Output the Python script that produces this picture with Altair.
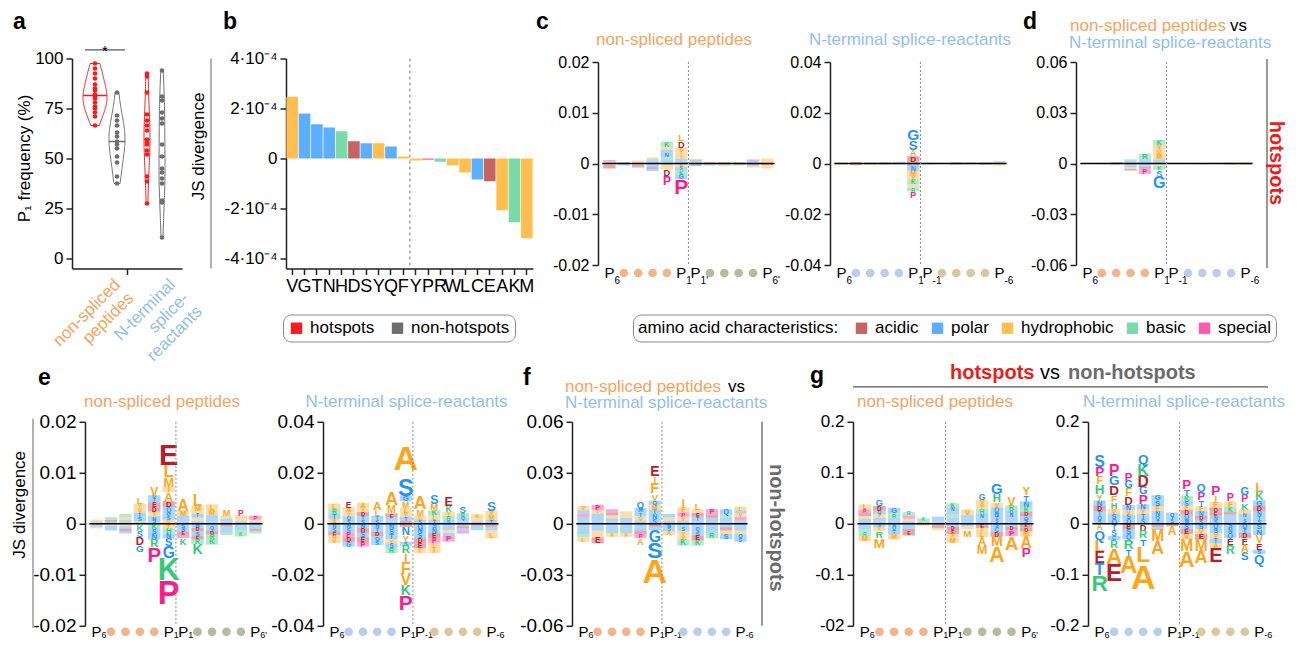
import altair as alt
import numpy as np
import pandas as pd

FONT = "Liberation Sans"
LOGO_FONT = "Liberation Sans Narrow, Liberation Sans, Arial, sans-serif"
ORANGE_T = "#F2A462"
BLUE_T = "#93BEEA"
RED = "#EE1C1C"
GRAY_T = "#6B6B6B"

# ---------------- panel a : P1 frequency (%) ----------------
NS_HOT = [97.5, 95, 92.5, 90, 87, 85, 84, 82, 81, 80, 78, 76, 75, 73, 71, 66.5]
NS_NON = [83, 71.5, 69, 66.5, 63, 61, 58.5, 57, 55, 51, 48, 41, 37.5]
NT_HOT = [92.5, 91, 83, 72, 69, 66.5, 64, 59.5, 58, 57, 54, 52, 41, 38.5, 27.5]
NT_NON = [94, 81, 79, 73, 70, 67.5, 57, 51, 45, 43, 40, 37.5, 29, 28, 10.5]
A_GROUPS = ["hotspots", "non-hotspots", "hotspots", "non-hotspots"]
A_XLABELS = [["non-spliced", "peptides"], ["N-terminal", "splice-", "reactants"]]

# ---------------- panel b : JS divergence per residue ----------------
BAR_AA = ["V", "G", "T", "N", "H", "D", "S", "Y", "Q", "F",
          "Y", "P", "R", "W", "L", "C", "E", "A", "K", "M"]
BAR_JS = [2.47e-4, 1.80e-4, 1.37e-4, 1.24e-4, 1.09e-4, 0.69e-4, 0.61e-4, 0.61e-4, 0.48e-4, 0.08e-4,
          -0.08e-4, -0.05e-4, -0.13e-4, -0.28e-4, -0.56e-4, -0.84e-4, -0.91e-4, -2.07e-4, -2.55e-4, -3.19e-4]

# ---------------- sequence logos (letter + height, from zero outward; "pos | neg") ----------------
LOGO_C1 = [
    "A.2 S.2 P.3 | V.3 E.4 D.3",
    "L.1 T.1 G.1 | A.2 S.2",
    "V.2 F.2 M.2 | N.3 D.3 E.2",
    "S.3 T.3 R.3 L.3 | G.3 S.4 D.4 Q.4",
    "A.3 S.5 R.5 N.8 T.6 Y.6 K1.0 | S.4 L.4 A.4 D1.3 P1.7",
    "G.4 S.5 I.8 Y.7 A.7 D1.3 L1.4 | A.7 S.7 K.8 G.9 P3.0",
    "R.3 S.3 E.2 | T.3 D.2",
    "G.2 A.2 | L.2 S.2",
    "S.1 T.2 | E.2 A.3",
    "V.2 S.1 | D.2 R.2",
    "S.3 T.2 P.3 | E.3 S.2 A.3",
    "M.2 L.3 A.5 | E.3 V.3 A.4",
]
LOGO_C2 = [
    "S.3 A.2 | E.3 L.2",
    "P.5 A.2 | R.4 E.3",
    "S.3 G.2 | T.3 V.2",
    "A.3 E.2 | S.3 M.2",
    "S.4 G.3 | N.3 A.2",
    "T.6 D2.3 A2.5 S3.8 G4.4 | E.9 N2.0 M2.0 V1.5 K1.8 I1.3 R1.5 P2.5",
    "A.2 R.2 | E.3",
    "S.2 | A.2",
    "L.3 E.2 | A.3 S.2",
    "S.2 E.2 | R.3",
    "T.3 S.2 | V.3 E.2",
    "K.6 S.3 | A.5 V.3",
]
LOGO_D = [
    "S.3 | A.3",
    "E.3 L.2 | S.3 V.2",
    "A.4 E.4 | L.4 N.3",
    "A.5 S.5 T.6 K.9 | N1.0 S1.2 L1.0 E1.0",
    "S.8 N.8 Q.9 R3.4 | S1.0 G1.1 E1.0 P3.0",
    "S1.2 T1.3 M2.8 V2.8 Y2.8 K3.0 | A1.5 K2.2 S4.0 G6.9",
    "E.4 | A.4",
    "S.3 | T.3",
    "A.3 | E.3 L.2",
    "A.2 | E.3",
    "A.4 L.3 | M.4 S.3",
    "L.4 Y.3 | K.4 A.3",
]
LOGO_E1 = [
    "A.3 S.2 V.3 | N.3 T.3 L.3",
    "S.4 E.4 K.5 | A.4 S.4 G.5",
    "S.4 T.4 V.5 K.6 | A.5 S.5 D.5 N.4",
    "K.6 S.8 T.8 V.9 Y.8 L1.4 | K1.3 S1.3 D1.6 G1.4",
    "S.7 N.8 Y.9 D.9 E.9 T.7 Q.7 V1.7 | K1.0 S1.0 N1.1 R1.6 P2.9",
    "V.8 S.8 G.8 Q.9 D1.1 A1.8 I1.1 M1.8 L2.4 E4.1 | Y.9 H1.0 N1.0 S1.6 G2.2 K4.3 P4.6",
    "S.5 N.6 T.5 M1.0 A2.2 | S.8 N.7 E.7 P.6 K1.3",
    "S.6 Y.6 T.7 I.6 M1.0 L2.2 | N.8 D.7 S.8 E.8 R.9 K2.0",
    "S.5 T.6 Q.6 M1.0 L1.1 | N.6 Q.7 D.8 R.9 K1.1",
    "S.5 T.5 Y.6 M1.3 | E.5 Q.6 S.5 R.6",
    "S.5 A.6 L.6 P1.2 | Q.6 S.6 R.6 K.7",
    "S.4 A.4 P.8 | N.5 S.5 E.4 K.5",
]
LOGO_E2 = [
    "A1.9 T1.9 R1.9 L2.2 | N1.5 S1.5 E1.5 A1.5 V1.6",
    "S1.5 Q1.5 Y1.5 A2.0 E2.4 | N1.7 S1.8 P1.8 D1.8 G1.8",
    "S1.5 T1.5 D1.6 Y1.5 A2.2 | N1.7 D1.8 S1.8 E1.8 P1.8",
    "S1.6 T1.6 L2.4 A3.3 | N1.6 T1.6 D1.7 Q1.7 S1.7",
    "T1.3 S1.3 E1.5 M3.0 A5.0 | N2.0 S2.0 T2.0 Y1.7 S1.8 R2.0",
    "D1.3 T1.5 Y1.5 L2.0 M2.5 G2.2 S6.6 A16.2 | D1.2 N3.2 Y2.6 S1.6 R3.2 I3.2 F4.5 V4.5 K3.9 P5.9",
    "S1.5 L1.8 M2.5 A5.0 | Q1.9 N1.9 S1.9 D1.9 E1.9 I2.0",
    "T1.5 L1.8 K2.0 M2.7 S3.5 | S1.8 N1.9 E1.9 P1.9 L2.0 I2.0",
    "S1.5 R1.6 Y1.5 K2.5 E3.5 | N1.2 S1.2 L1.2 T1.2 P2.2",
    "T1.2 Q1.4 R1.6 S2.8 | N.9 E.9 S1.0 P1.0",
    "S1.0 L1.2 A1.6 | E.8 N.8 S.9",
    "T1.5 M1.8 V1.8 S3.8 | E1.2 S1.3 A1.2 L2.0",
]
LOGO_F = [
    "S2.0 N2.0 P2.0 T2.0 V2.5 | Q2.0 S2.0 N2.0 R2.0 L2.5",
    "N2.0 S2.0 T2.0 Y2.1 P3.0 | S2.0 T2.0 A2.0 L2.0 E3.5",
    "S1.5 T1.7 Y1.7 E1.7 P2.0 | N1.8 S1.8 Q1.8 A2.2",
    "S1.7 T1.8 Y1.8 L2.0 | Q1.8 S1.8 T1.8 A2.2",
    "S2.0 V2.4 T2.4 N2.6 Q4.0 | N2.0 S2.0 E2.0 P2.4 A4.0",
    "S2.8 N2.8 T2.8 M2.8 Q2.5 V4.0 F6.2 I4.2 E5.9 | D1.8 N2.0 G6.7 S9.6 A15.3",
    "S1.8 A1.9 T2.0 | N2.2 S2.1 A2.4",
    "S2.0 V2.2 P2.5 F3.0 I4.6 | N2.0 S2.3 Y2.5 V2.5 K3.5",
    "S2.0 T2.2 E2.2 Y2.0 L4.0 | N2.0 Q2.3 S2.5 E3.0 K3.0",
    "S1.7 T1.8 E2.0 P3.1 | Q1.8 N1.8 S2.0 R3.0",
    "S1.8 T1.8 R2.0 Q3.0 | N2.0 E2.0 V2.0 S3.0",
    "S2.0 P2.0 V2.1 Q1.8 L2.2 | N2.0 T2.0 Y2.0 Q2.2 S2.3",
]
LOGO_G1 = [
    "S.5 Q.5 A.5 D.6 P.7 L.95 | N.5 S.6 K.6 R.7 M1.0",
    "S.6 T.6 V.7 Q.7 D.9 G1.3 | S.7 V.7 R1.4 M1.9",
    "S.6 T.6 R.8 G1.1 | N.7 Q.7 T.7 M1.0",
    "S.5 Y.5 P.6 R.7 | T.5 Q.5 D.6 E.7",
    "S.4 K.7 | A.4",
    "S.5 T.4 Q.5 | E.4 D.4 V.4",
    "S.6 T.6 R.6 Q.6 N.7 K.9 | N.6 D.7 E.7 A.7 M1.0",
    "S.5 N.6 Q.6 V1.1 | S.5 V.6 M1.4",
    "S.6 T.6 N.8 H.9 Y.9 V.9 G1.2 | E.8 F.8 L1.0 A1.5 M1.8",
    "S.7 T.7 N.9 Q.9 V.9 H1.6 G2.1 | S.7 C.9 D.9 M2.0 A3.0",
    "S.6 T.6 N.7 Q.7 R1.0 V1.7 | N.6 D.7 P1.1 A2.6",
    "S.7 Q.8 D.8 K1.0 N1.1 T1.2 Y1.6 | E.7 D.8 M1.0 A2.2 P1.9",
]
LOGO_G2 = [
    "S.8 Q.8 T.9 D1.0 N1.1 Y1.3 H1.9 F1.5 P1.9 S2.2 | A1.2 Q1.9 L2.4 E2.2 T2.2 R3.2",
    "Q1.0 S1.0 V.9 H1.3 F1.4 D1.9 G1.9 P2.2 | T1.2 S1.2 C.8 R1.5 A3.1 E3.4",
    "Q.9 S.9 V.9 N1.0 D1.6 F1.6 G1.5 P1.6 | E1.0 S1.1 Q1.0 R1.9 T1.3 A3.4",
    "S.9 T1.0 Y.9 N1.0 P1.9 G1.55 D2.2 K2.3 Q1.9 | D1.3 R1.6 T1.4 L3.2 A5.9",
    "T.8 Q.8 N.9 F.9 S1.1 G1.1 | E.6 N.6 M2.2 A2.5",
    "S.7 T.7 Q.8 | E.5 A1.7",
    "N.9 Q.9 D.9 F.9 S.9 K1.0 T1.4 P1.85 | S1.0 E1.0 V1.1 M2.2 A3.1",
    "S.8 D.8 N.9 F.9 T1.2 P1.6 Q1.6 | S1.0 V1.0 E1.1 M2.2 A2.5",
    "S.8 N.8 E.8 D.8 F1.1 I1.3 P1.9 | Q.9 S1.0 V1.0 T.9 A.9 E2.8",
    "S.6 T.6 N.6 D.6 K.9 F1.1 P1.5 | S.9 N.9 Q1.0 E1.4 R1.7",
    "S.7 T.6 N.7 L.8 K1.4 P1.45 G1.55 | Q.9 T.9 D1.0 E1.3 A1.5 S1.6",
    "S.8 T.8 N.9 D1.0 G1.1 K1.6 L1.9 | S1.1 N1.1 V1.6 E1.3 S.8 Q1.9",
]
TICKS_NS = ["P6", "", "", "", "", "P1", "P1'", "", "", "", "", "P6'"]
TICKS_NT = ["P6", "", "", "", "", "P1", "P-1", "", "", "", "", "P-6"]

# ---------------- styles ----------------
AA_CLASS = {}
for _a in "DE":
    AA_CLASS[_a] = "acidic"
for _a in "STNQGC":
    AA_CLASS[_a] = "polar"
for _a in "AVLIMFWY":
    AA_CLASS[_a] = "hydrophobic"
for _a in "HKR":
    AA_CLASS[_a] = "basic"
AA_CLASS["P"] = "special"
CLASSES = ["acidic", "polar", "hydrophobic", "basic", "special"]
BAR_COLORS = ["#C66462", "#5CAEFF", "#FFBE50", "#7ADBA8", "#FF5AAE"]
LOGO_COLORS = dict(zip(CLASSES, ["#B3202C", "#2593F5", "#FFA51A", "#36C97C", "#FF1A8C"]))
HOT_COLORS = {"hotspots": "#F21D1D", "non-hotspots": "#6E6E6E"}
PEACH, SAGE, LBLUE, TAN = "#F3B48B", "#B5BC9C", "#B8CEEA", "#D8C89F"

TOP_H, LOGO_TOP_H, BOT_H = 210, 203, 204
DUMMY = pd.DataFrame({"v": [0]})
FSMAX = 34


def txt(text, x, y, size=17, color="black", weight="normal", align="left",
        baseline="alphabetic", angle=0, font=FONT, line_height=None):
    kw = dict(text=text, fontSize=size, color=color, fontWeight=weight,
              align=align, baseline=baseline, font=font)
    if angle:
        kw["angle"] = angle
    if line_height:
        kw["lineHeight"] = line_height
    return alt.Chart(DUMMY).mark_text(**kw).encode(x=alt.value(x), y=alt.value(y))


def vline(x, y1, y2, color="#999", width=1.5):
    return alt.Chart(DUMMY).mark_rule(color=color, strokeWidth=width).encode(
        x=alt.value(x), y=alt.value(y1), y2=alt.value(y2))


def hline(x1, x2, y, color="#555", width=1.2):
    return alt.Chart(DUMMY).mark_rule(color=color, strokeWidth=width).encode(
        x=alt.value(x1), x2=alt.value(x2), y=alt.value(y))


def spacer(w, h):
    return alt.Chart(DUMMY).mark_point(opacity=0).encode(
        x=alt.X("v:Q", axis=None), y=alt.Y("v:Q", axis=None)).properties(width=w, height=h)


AXIS_STYLE = dict(domainColor="#222", tickColor="#222", labelColor="black",
                  domainWidth=1.5, tickWidth=1.5, grid=False, labelFont=FONT)

# ---------------- panel a ----------------
A_CENTERS = [23, 45, 75, 90]
A_WIDTHS = [24, 16, 6, 6]
vio_rows, med_rows, dot_rows = [], [], []
for k, (vals, grp) in enumerate(zip([NS_HOT, NS_NON, NT_HOT, NT_NON], A_GROUPS)):
    v = np.array(vals, float)
    cx, wf = A_CENTERS[k], A_WIDTHS[k]
    bw = 1.06 * v.std(ddof=1) * len(v) ** (-0.2)
    grid = np.linspace(v.min(), v.max(), 80)
    dens = np.exp(-0.5 * ((grid[:, None] - v[None, :]) / bw) ** 2).sum(1)
    hw = dens / dens.max() * wf / 2
    col = HOT_COLORS[grp]
    for g, h in zip(grid, hw):
        vio_rows.append(dict(vid=k, y=g, xl=cx - h, xr=cx + h, col=col))
    med = float(np.median(v))
    dm = np.exp(-0.5 * ((med - v) / bw) ** 2).sum() / dens.max() * wf / 2
    med_rows.append(dict(vid=k, y=med, xl=cx - dm, xr=cx + dm, col=col))
    for val in v:
        dot_rows.append(dict(vid=k, y=val, x=cx, grp=grp))

ax_s = alt.Scale(domain=[0, 110], nice=False, zero=False)
ay_s = alt.Scale(domain=[-5, 100], nice=False, zero=False)
A_YAX = alt.Axis(values=[0, 25, 50, 75, 100], title=None, labelFontSize=17, tickSize=6,
                 labelPadding=3, **AXIS_STYLE)
A_XAX = alt.Axis(values=[55], labels=False, title=None, tickSize=6, **AXIS_STYLE)
a_violin = alt.Chart(pd.DataFrame(vio_rows)).mark_area(
    orient="horizontal", fillOpacity=0, strokeWidth=1).encode(
    y=alt.Y("y:Q", scale=ay_s, axis=A_YAX),
    x=alt.X("xl:Q", scale=ax_s, axis=A_XAX),
    x2="xr:Q",
    stroke=alt.Stroke("col:N", scale=None),
    detail="vid:N")
a_med = alt.Chart(pd.DataFrame(med_rows)).mark_rule(strokeWidth=1.5).encode(
    y=alt.Y("y:Q", scale=ay_s, axis=A_YAX), x=alt.X("xl:Q", scale=ax_s, axis=A_XAX), x2="xr:Q",
    color=alt.Color("col:N", scale=None))
a_dots = alt.Chart(pd.DataFrame(dot_rows)).mark_circle(size=22, opacity=1).encode(
    y=alt.Y("y:Q", scale=ay_s, axis=A_YAX), x=alt.X("x:Q", scale=ax_s, axis=A_XAX),
    color=alt.Color("grp:N", scale=alt.Scale(domain=list(HOT_COLORS), range=list(HOT_COLORS.values())),
                    legend=alt.Legend(orient="none", legendX=211, legendY=256, direction="horizontal",
                                      title=None, symbolType="square", symbolSize=130, symbolStrokeWidth=0,
                                      labelFont=FONT, labelFontSize=17, labelColor="black", labelOffset=5,
                                      labelLimit=300, columnPadding=14, padding=5, strokeColor="#8a8a8a",
                                      cornerRadius=8, fillColor="white")))
A = alt.layer(
    a_violin, a_med, a_dots,
    txt("a", -59, -29.7, 23, weight="bold"),
    txt("P\u2081 frequency (%)", -47, 100, 17, align="center", baseline="middle", angle=270),
    txt(A_XLABELS[0], 40, 218, 17, ORANGE_T, align="right", baseline="top", angle=315, line_height=19),
    txt(A_XLABELS[1], 95, 218, 17, BLUE_T, align="right", baseline="top", angle=315, line_height=19),
    hline(13, 53, -8.7),
    txt("*", 33, -3, 15, align="center"),
).properties(width=110, height=TOP_H)

# ---------------- panel b ----------------
BAR_KEYS = [f"{a}{i}" for i, a in enumerate(BAR_AA)]
bdf = pd.DataFrame({"key": BAR_KEYS, "js": BAR_JS, "cls": [AA_CLASS[a] for a in BAR_AA]})
split_key = BAR_KEYS[next(i for i, v in enumerate(BAR_JS) if v < 0)]
B_XAX = alt.Axis(title=None, labelExpr="substring(datum.label, 0, 1)", labelAngle=0,
                 labelFontSize=18, tickSize=6, labelPadding=3, **AXIS_STYLE)
bx_s = alt.Scale(paddingInner=0.06, paddingOuter=0.03)
b_bars = alt.Chart(bdf).mark_bar().encode(
    x=alt.X("key:N", sort=BAR_KEYS, scale=bx_s, axis=B_XAX),
    y=alt.Y("js:Q", scale=alt.Scale(domain=[-4.4e-4, 4e-4], nice=False, zero=False),
            axis=alt.Axis(values=[-4e-4, -2e-4, 0, 2e-4, 4e-4], title=None, labelFontSize=17, tickSize=6,
                          labelPadding=3,
                          labelExpr="datum.value == 0 ? '0' : (datum.value < 0 ? '-' : '') + "
                                    "format(abs(datum.value) * 10000, '.0f') + '\u00b710\u207b\u2074'",
                          **AXIS_STYLE)),
    color=alt.Color("cls:N", scale=alt.Scale(domain=CLASSES, range=BAR_COLORS),
                    legend=alt.Legend(orient="none", legendX=347, legendY=256, direction="horizontal",
                                      title="amino acid characteristics:", titleOrient="left",
                                      titleFont=FONT, titleFontSize=17, titleFontWeight="normal",
                                      titleColor="black", titlePadding=14, titleLimit=400,
                                      symbolType="square", symbolSize=130, symbolStrokeWidth=0,
                                      labelFont=FONT, labelFontSize=17, labelColor="black", labelOffset=5,
                                      labelLimit=300, columnPadding=10, padding=5, strokeColor="#8a8a8a",
                                      cornerRadius=8, fillColor="white")))
b_split = alt.Chart(pd.DataFrame({"key": [split_key]})).mark_rule(
    strokeDash=[3, 3], color="#777", strokeWidth=1).encode(
    x=alt.X("key:N", sort=BAR_KEYS, scale=bx_s, axis=B_XAX, bandPosition=0),
    y=alt.value(0), y2=alt.value(TOP_H))
B = alt.layer(
    b_bars, b_split,
    txt("b", -63, -29.7, 23, weight="bold"),
    txt("JS divergence", -87, 88, 17, align="center", baseline="middle", angle=270),
    vline(-75, 0, TOP_H),
).properties(width=247, height=TOP_H)


# ---------------- logos ----------------
def logo_df(rows, unit):
    recs = []
    for i, s in enumerate(rows, start=1):
        pos, neg = s.split("|")
        for sign, part in ((1, pos), (-1, neg)):
            for k, tok in enumerate(part.split()):
                c = AA_CLASS[tok[0]]
                recs.append(dict(pos=i, letter=tok[0], v=sign * float(tok[1:]) * unit,
                                 order=k, lc=LOGO_COLORS[c]))
    return pd.DataFrame(recs)


def logo_panel(rows, unit, W, H, dom, step, axis_fs, ticks, lcol, rcol, annots,
               p_off=8, sub_dy=8, sub_fs=10, label_expr=None):
    df = logo_df(rows, unit)
    ppu = H / (dom[1] - dom[0])
    cw = W / 12.4
    xs = alt.Scale(domain=[0.2, 12.6], nice=False, zero=False, padding=0)
    ys = alt.Scale(domain=list(dom), nice=False, zero=False, padding=0)
    n = int(round(dom[1] / step))
    vals = [round(i * step, 4) for i in range(-n, n + 1)]
    lexpr = label_expr or "replace(format(datum.value, '.2~f'), '\u2212', '-')"
    yaxis = alt.Axis(values=vals, labelExpr=lexpr, title=None, labelFontSize=axis_fs, tickSize=6,
                     labelPadding=3, **AXIS_STYLE)
    X = alt.X("pos:Q", scale=xs, axis=None)
    base = alt.Chart(df).transform_stack(
        stack="v", groupby=["pos"], sort=[alt.SortField("order", order="ascending")],
        as_=["y0", "y1"], offset="zero").transform_calculate(
        hpx=f"abs(datum.y1 - datum.y0) * {ppu}")
    small = base.transform_filter("datum.hpx < 6").mark_bar(width=cw * 0.86, opacity=0.38).encode(
        x=X, y=alt.Y("y0:Q", scale=ys, axis=yaxis), y2="y1:Q", color=alt.Color("lc:N", scale=None))
    letters = base.transform_filter("datum.hpx >= 3.5").transform_calculate(
        fs=f"min({FSMAX}, datum.hpx / 0.72)").transform_calculate(
        ym=f"(datum.y0 + datum.y1) / 2 - 0.058 * datum.fs / {ppu}").mark_text(
        font=LOGO_FONT, fontWeight="bold", align="center", baseline="middle").encode(
        x=X, y=alt.Y("ym:Q", scale=ys, axis=yaxis), text="letter:N",
        size=alt.Size("fs:Q", scale=None), color=alt.Color("lc:N", scale=None))
    zdf = pd.DataFrame({"a": [df.pos.min() - 0.5], "b": [df.pos.max() + 0.5], "z": [0.0]})
    zero = alt.Chart(zdf).mark_rule(color="black", strokeWidth=1.5).encode(
        x=alt.X("a:Q", scale=xs, axis=None), x2="b:Q", y=alt.Y("z:Q", scale=ys, axis=yaxis))
    mid = pd.DataFrame({"m": [len(ticks) / 2 + 0.5]})
    dotted = alt.Chart(mid).mark_rule(color="#888", strokeDash=[2, 2], strokeWidth=1).encode(
        x=alt.X("m:Q", scale=xs, axis=None), y=alt.value(0), y2=alt.value(H))
    prow = pd.DataFrame({"pos": range(1, 13), "lab": ticks})
    prow["sub"] = prow.lab.str[1:]
    prow["dc"] = [lcol if p <= 6 else rcol for p in prow.pos]
    plabs = prow[prow.lab != ""]
    pdots = prow[prow.lab == ""]
    p_big = alt.Chart(plabs).mark_text(text="P", font=FONT, fontSize=15, baseline="middle").encode(
        x=X, y=alt.value(H + p_off))
    p_sub = alt.Chart(plabs).mark_text(font=FONT, fontSize=sub_fs, align="left", baseline="middle",
                                       dx=5, dy=sub_dy).encode(x=X, y=alt.value(H + p_off), text="sub:N")
    p_dot = alt.Chart(pdots).mark_circle(size=75, opacity=1).encode(
        x=X, y=alt.value(H + p_off), color=alt.Color("dc:N", scale=None))
    return alt.layer(small, letters, zero, dotted, p_big, p_sub, p_dot, *annots).properties(
        width=W, height=H)


BOT_P = dict(p_off=6, sub_dy=3, sub_fs=9)
LT = LOGO_TOP_H
C1 = logo_panel(LOGO_C1, 1e-3, 178, LT, (-0.02, 0.02), 0.01, 16, TICKS_NS, PEACH, SAGE, [
    txt("c", -62, -33.2, 23, weight="bold"),
    txt("non-spliced peptides", 76, -17.2, 17, ORANGE_T, align="center")])
C2 = logo_panel(LOGO_C2, 1e-3, 178, LT, (-0.04, 0.04), 0.02, 16, TICKS_NT, LBLUE, TAN, [
    txt("N-terminal splice-reactants", 80, -17.2, 17, BLUE_T, align="center")])
D = logo_panel(LOGO_D, 1e-3, 178, LT, (-0.06, 0.06), 0.03, 16, TICKS_NT, PEACH, LBLUE, [
    txt("d", -53, -33.2, 23, weight="bold"),
    txt("non-spliced peptides", -6, -31.2, 17, ORANGE_T),
    txt("vs", 154, -31.2, 17),
    txt("N-terminal splice-reactants", -7, -14.2, 17, BLUE_T),
    vline(191, -3, LT + 3, width=2),
    txt("hotspots", 200, 101, 20, RED, weight="bold", align="center", baseline="middle", angle=90)])
E1 = logo_panel(LOGO_E1, 1e-3, 179, BOT_H, (-0.02, 0.02), 0.01, 19, TICKS_NS, PEACH, SAGE, [
    txt("e", -47, -37, 23, weight="bold"),
    txt("non-spliced peptides", 77, -15, 17, ORANGE_T, align="center"),
    txt("JS divergence", -65, 83, 17, align="center", baseline="middle", angle=270),
    vline(-52, -3, BOT_H + 2)], **BOT_P)
E2 = logo_panel(LOGO_E2, 1e-3, 177, BOT_H, (-0.04, 0.04), 0.02, 19, TICKS_NT, LBLUE, TAN, [
    txt("N-terminal splice-reactants", 83.5, -15, 17, BLUE_T, align="center")], **BOT_P)
F = logo_panel(LOGO_F, 1e-3, 177, BOT_H, (-0.06, 0.06), 0.03, 19, TICKS_NT, PEACH, LBLUE, [
    txt("f", -49, -37, 23, weight="bold"),
    txt("non-spliced peptides", -7, -30, 17, ORANGE_T),
    txt("vs", 156, -30, 17),
    txt("N-terminal splice-reactants", -7, -14, 17, BLUE_T),
    vline(190, 0, BOT_H, width=2),
    txt("non-hotspots", 204, 106, 20, GRAY_T, weight="bold", align="center", baseline="middle", angle=90)],
    **BOT_P)
G1 = logo_panel(LOGO_G1, 1e-2, 182, BOT_H, (-0.2, 0.2), 0.1, 17, TICKS_NS, PEACH, SAGE, [
    txt("g", -43, -39, 23, weight="bold"),
    txt("hotspots", 97, -43, 20, RED, weight="bold"),
    txt("vs", 187, -43, 20),
    txt("non-hotspots", 215, -43, 20, GRAY_T, weight="bold"),
    hline(0, 415, -35),
    txt("non-spliced peptides", 82, -15, 17, ORANGE_T, align="center")],
    label_expr="datum.value < -0.15 ? '-02' : replace(format(datum.value, '.1~f'), '\u2212', '-')", **BOT_P)
G2 = logo_panel(LOGO_G2, 1e-2, 180, BOT_H, (-0.2, 0.2), 0.1, 17, TICKS_NT, LBLUE, TAN, [
    txt("N-terminal splice-reactants", 96, -15, 17, BLUE_T, align="center")], **BOT_P)

RES = dict(x="independent", y="independent", color="independent", stroke="independent",
           size="independent")
top = alt.hconcat(spacer(1, TOP_H), A, spacer(104, TOP_H), B, spacer(65, TOP_H), C1,
                  spacer(54, TOP_H), C2, spacer(68, TOP_H), D,
                  spacing=0, bounds="flush", center=True).resolve_scale(**RES).resolve_legend(
    color="independent")
bot = alt.hconcat(spacer(14, BOT_H), E1, spacer(59, BOT_H), E2, spacer(72, BOT_H), F,
                  spacer(104, BOT_H), G1, spacer(53, BOT_H), G2,
                  spacing=0, bounds="flush").resolve_scale(**RES).resolve_legend(color="independent")

chart = alt.vconcat(top, bot, spacing=363.3, bounds="flush").resolve_scale(**RES).resolve_legend(
    color="independent").properties(
    padding={"left": 3, "top": 2.5, "right": 4, "bottom": 0}).configure_view(
    stroke=None).configure_text(font=FONT)

chart.save("out.html", embed_options={"renderer": "svg", "actions": False})
